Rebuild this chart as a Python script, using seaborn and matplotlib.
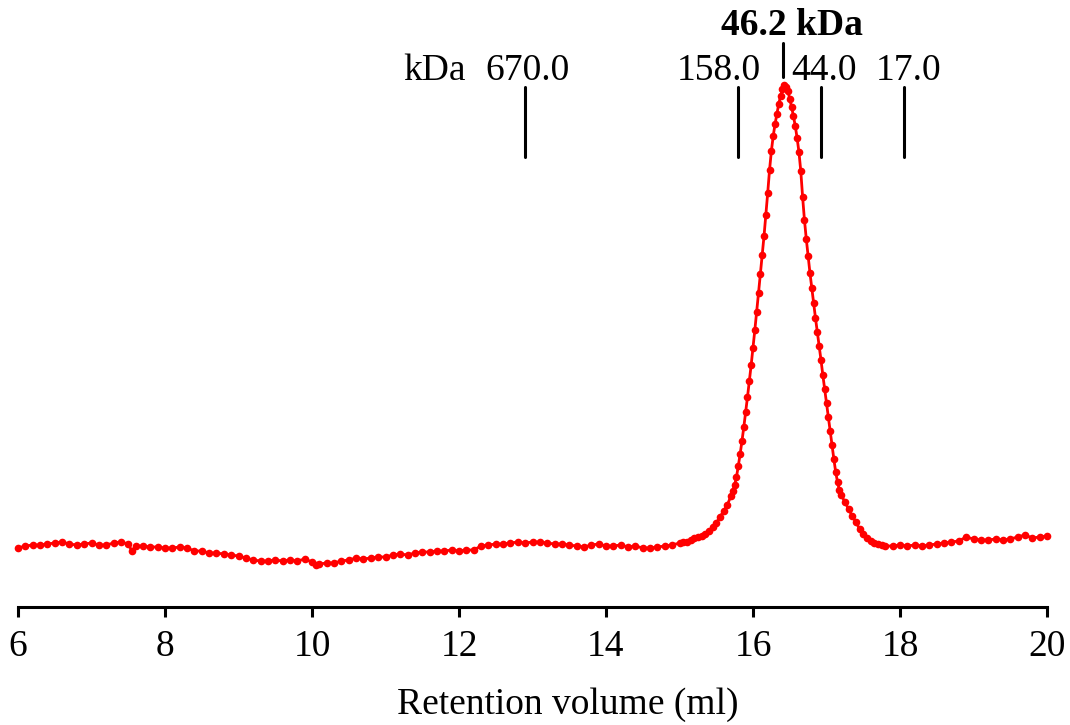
import matplotlib
matplotlib.use("Agg")
import matplotlib.pyplot as plt
import seaborn as sns
import pandas as pd

# ---- data ----
volume_ml = [
    6.0, 6.1, 6.2, 6.3, 6.4, 6.5, 6.6, 6.7, 6.8, 6.9,
    7.0, 7.1, 7.2, 7.3, 7.4, 7.5, 7.55, 7.6, 7.7, 7.8, 7.9,
    8.0, 8.1, 8.2, 8.3, 8.4, 8.5, 8.6, 8.7, 8.8, 8.9,
    9.0, 9.1, 9.2, 9.3, 9.4, 9.5, 9.6, 9.7, 9.8, 9.9,
    10.0, 10.05, 10.1, 10.2, 10.3, 10.4, 10.5, 10.6, 10.7, 10.8, 10.9,
    11.0, 11.1, 11.2, 11.3, 11.4, 11.5, 11.6, 11.7, 11.8, 11.9,
    12.0, 12.1, 12.2, 12.3, 12.4, 12.5, 12.6, 12.7, 12.8, 12.9,
    13.0, 13.1, 13.2, 13.3, 13.4, 13.5, 13.6, 13.7, 13.8, 13.9,
    14.0, 14.1, 14.2, 14.3, 14.4, 14.5, 14.6, 14.7, 14.8, 14.9,
    15.0, 15.05, 15.1, 15.15, 15.2, 15.25, 15.3, 15.35, 15.4, 15.45,
    15.5, 15.55, 15.6, 15.65, 15.7, 15.725, 15.75, 15.775, 15.8, 15.825,
    15.85, 15.875, 15.9, 15.925, 15.95, 15.975, 16.0, 16.025, 16.05, 16.075,
    16.1, 16.125, 16.15, 16.175, 16.2, 16.225, 16.25, 16.275, 16.3, 16.325,
    16.35, 16.375, 16.4, 16.425, 16.45, 16.475, 16.5, 16.525, 16.55, 16.575,
    16.6, 16.625, 16.65, 16.675, 16.7, 16.725, 16.75, 16.775, 16.8, 16.825,
    16.85, 16.875, 16.9, 16.925, 16.95, 16.975, 17.0, 17.025, 17.05, 17.075,
    17.1, 17.125, 17.15, 17.175, 17.2, 17.25, 17.3, 17.35, 17.4, 17.45,
    17.5, 17.55, 17.6, 17.65, 17.7, 17.75, 17.8, 17.9,
    18.0, 18.1, 18.2, 18.3, 18.4, 18.5, 18.6, 18.7, 18.8, 18.9,
    19.0, 19.1, 19.2, 19.3, 19.4, 19.5, 19.6, 19.7, 19.8, 19.9, 20.0,
]
absorbance_mau = [
    11.2, 11.6, 11.8, 11.8, 12.0, 12.2, 12.4, 12.0, 11.8, 12.0,
    12.2, 11.8, 11.8, 12.2, 12.4, 12.0, 10.6, 11.6, 11.6, 11.4, 11.4,
    11.2, 11.2, 11.4, 11.2, 10.6, 10.6, 10.2, 10.2, 10.0, 9.8,
    9.6, 9.2, 8.8, 8.6, 8.6, 8.8, 8.6, 8.8, 8.6, 9.0,
    8.4, 7.8, 8.0, 8.2, 8.2, 8.6, 8.8, 9.2, 9.0, 9.2, 9.4,
    9.4, 9.8, 10.0, 9.8, 10.2, 10.4, 10.4, 10.6, 10.6, 10.8,
    10.6, 10.8, 10.8, 11.6, 11.8, 12.0, 12.0, 12.2, 12.4, 12.2,
    12.4, 12.4, 12.2, 12.0, 12.0, 11.8, 11.6, 11.4, 11.8, 12.0,
    11.6, 11.6, 11.8, 11.4, 11.6, 11.2, 11.2, 11.4, 11.6, 11.8,
    12.2, 12.4, 12.4, 12.8, 13.2, 13.4, 13.6, 14.0, 14.6, 15.4,
    16.2, 17.4, 18.6, 19.8, 21.6, 22.6, 23.8, 25.4, 27.6, 30.0,
    32.6, 35.4, 38.4, 41.4, 44.6, 47.8, 51.2, 54.8, 58.4, 62.2,
    66.0, 69.8, 73.6, 77.8, 82.2, 86.8, 90.6, 93.6, 96.0, 98.0,
    100.0, 101.6, 102.9, 103.8, 103.4, 102.6, 101.0, 99.4, 97.6, 95.6,
    93.2, 90.4, 86.6, 81.4, 76.8, 73.0, 69.6, 66.2, 63.2, 60.2,
    57.2, 54.4, 51.6, 48.8, 45.8, 43.0, 40.2, 37.4, 34.6, 31.8,
    29.0, 26.4, 24.4, 22.8, 21.8, 20.4, 19.0, 17.6, 16.4, 15.0,
    14.0, 13.2, 12.6, 12.2, 12.0, 11.8, 11.6, 11.6,
    11.8, 11.6, 11.8, 11.6, 11.8, 12.0, 12.2, 12.4, 12.6, 13.4,
    13.0, 12.8, 12.8, 13.0, 12.8, 13.0, 13.4, 13.8, 13.2, 13.4, 13.6,
]

# molecular weight standards (elution volume, label)
standard_ml = [12.90, 15.80, 16.93, 18.05]
standard_kda = ["670.0", "158.0", "44.0", "17.0"]
sample_ml = 16.41
sample_label = "46.2 kDa"

df = pd.DataFrame({"Retention volume (ml)": volume_ml, "A280 (mAU)": absorbance_mau})

sns.set_theme(style="white")
plt.rcParams["font.family"] = ["Liberation Serif", "DejaVu Serif"]

fig = plt.figure(figsize=(10.7, 7.25), dpi=100)
ax = fig.add_axes([18 / 1070, 118 / 725, 1029 / 1070, 607 / 725])

sns.lineplot(data=df, x="Retention volume (ml)", y="A280 (mAU)", ax=ax,
             color="#ff0000", linewidth=2.0, marker="o", markersize=5.5,
             markeredgewidth=0, estimator=None, sort=False, clip_on=False)

ax.set_xlim(6, 20)
ax.set_ylim(-0.6, 120.8)
ax.set_xticks([6, 8, 10, 12, 14, 16, 18, 20])
ax.tick_params(axis="x", direction="out", length=7.2, width=2.2, colors="black",
               labelsize=27, pad=9, bottom=True)
ax.set_yticks([])
ax.set_ylabel("")
ax.set_xlabel("Retention volume (ml)", fontsize=27, color="black")
ax.xaxis.set_label_coords(0.534, -0.161)
ax.xaxis.label.set_va("center")
for s in ["left", "top", "right"]:
    ax.spines[s].set_visible(False)
ax.spines["bottom"].set_linewidth(2.2)
ax.spines["bottom"].set_color("black")

# standard markers
label_offsets = [0.03, -0.26, 0.03, 0.06]
for x, lab, off in zip(standard_ml, standard_kda, label_offsets):
    ax.plot([x, x], [89.4, 103.4], color="black", linewidth=2.2, clip_on=False)
    ax.text(x + off, 104.8, lab, ha="center", va="baseline", fontsize=27, color="black")
ax.text(11.67, 104.8, "kDa", ha="center", va="baseline", fontsize=27, color="black")

ax.plot([sample_ml, sample_ml], [105.4, 112.2], color="black", linewidth=2.2, clip_on=False)
ax.text(sample_ml + 0.12, 113.8, sample_label, ha="center", va="baseline",
        fontsize=27, fontweight="bold", color="black")

fig.savefig("out.png", dpi=100)
